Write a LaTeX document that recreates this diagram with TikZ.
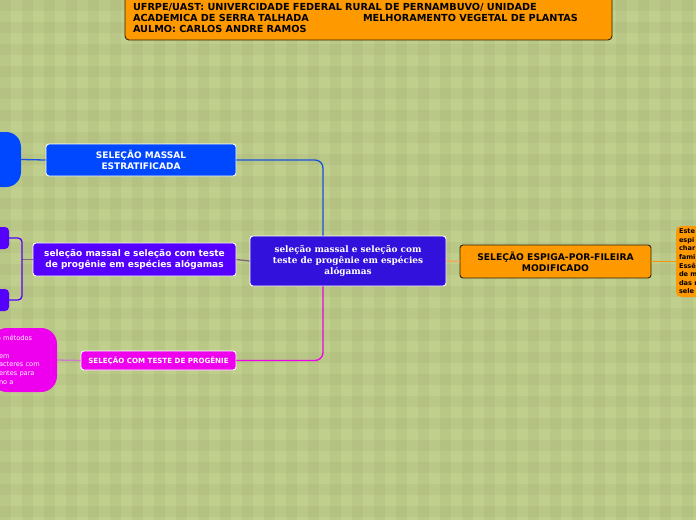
\documentclass[tikz,border=0pt]{standalone}
\usepackage{fontspec}
\setmainfont{DejaVu Sans}
\newfontfamily\mapserif{DejaVu Serif}
\usetikzlibrary{positioning}

\definecolor{mapbg}{RGB}{193,207,140}
\definecolor{maporange}{RGB}{255,153,0}
\definecolor{mapblue}{RGB}{0,72,255}
\definecolor{mapcentral}{RGB}{51,17,221}
\definecolor{mappurple}{RGB}{85,0,255}
\definecolor{mapmagenta}{RGB}{238,0,238}
\definecolor{mapdark}{RGB}{45,35,10}

\tikzset{
  topic/.style={draw=white, line width=0.9pt, rounded corners=3pt, text=white,
    align=center, inner sep=0pt, font=\bfseries\fontsize{9}{11}\selectfont},
  orangetopic/.style={topic, draw=mapdark, fill=maporange, text=black},
  bubble/.style={rounded corners=15pt, inner sep=0pt, align=left},
  link/.style={line width=1.3pt}
}

\begin{document}
\begin{tikzpicture}[x=1pt, y=-1pt]
    \useasboundingbox (0,0) rectangle (696,520);
    \clip (0,0) rectangle (696,520);

    % Background with plaid squares
    \fill[mapbg] (0,0) rectangle (696,520);
    \foreach \i in {0,22,...,690} {
        \fill[black, opacity=0.03] (\i,0) rectangle ++(11,520);
    }
    \foreach \j in {0,22,...,515} {
        \fill[black, opacity=0.03] (0,\j) rectangle ++(696,11);
    }

    % Title box
    \node[draw=mapdark, line width=0.9pt, fill=maporange, rounded corners=4pt,
          minimum width=487pt, minimum height=44pt, inner xsep=8pt, inner ysep=0pt,
          text width=471pt, align=left, font=\bfseries\fontsize{9.7}{11.3}\selectfont]
          (title) at (368.5,18) {UFRPE/UAST: UNIVERCIDADE FEDERAL RURAL DE PERNAMBUVO/ UNIDADE\\
          \makebox[230pt][l]{ACADEMICA DE SERRA TALHADA}MELHORAMENTO VEGETAL DE PLANTAS\\
          AULMO: CARLOS ANDRE RAMOS};

    % Central topic
    \node[topic, fill=mapcentral, minimum width=196pt, minimum height=50pt,
          font=\mapserif\bfseries\fontsize{8.9}{11}\selectfont]
          (central) at (348,261) {seleção massal e seleção com\\teste de progênie em espécies\\alógamas};

    % Main branches
    \node[topic, fill=mapblue, minimum width=190pt, minimum height=32pt]
          (massal) at (141,160) {SELEÇÃO MASSAL\\ESTRATIFICADA};
    \node[topic, fill=mappurple, minimum width=203pt, minimum height=33pt]
          (alogamas) at (134.5,259.5) {seleção massal e seleção com teste\\de progênie em espécies alógamas};
    \node[topic, fill=mapmagenta, minimum width=155pt, minimum height=19pt,
          font=\bfseries\fontsize{7.1}{8}\selectfont]
          (progenie) at (158.5,360.5) {SELEÇÃO COM TESTE DE PROGÊNIE};
    \node[orangetopic, minimum width=191pt, minimum height=33pt,
          font=\bfseries\fontsize{9.2}{11.3}\selectfont]
          (espiga) at (555.5,261.5) {SELEÇÃO ESPIGA-POR-FILEIRA\\MODIFICADO};

    % Sub topics (cut by the frame)
    \node[bubble, fill=mapblue, minimum width=61pt, minimum height=55pt, text width=50pt,
          text=white, font=\fontsize{5.5}{7}\selectfont]
          (massalnote) at (-9.5,159.5) {\hspace*{-6pt}a};
    \node[fill=mappurple, rounded corners=4pt, minimum width=29pt, minimum height=22pt]
          (alogamasA) at (-5.5,238) {};
    \node[fill=mappurple, rounded corners=4pt, minimum width=29pt, minimum height=22pt]
          (alogamasB) at (-5.5,300) {};
    \node[bubble, fill=mapmagenta, rounded corners=16pt, minimum width=66pt, minimum height=64pt,
          text width=50pt, text=white, font=\fontsize{6.6}{8.7}\selectfont]
          (progenienote) at (24,360) {\hspace*{-2pt}o métodos\\\mbox{}\\em\\acteres com\\entes para\\no a};
    \node[fill=maporange, rounded corners=5pt, minimum width=84pt, minimum height=71pt,
          inner sep=0pt, text width=78pt, align=left, font=\bfseries\fontsize{6.6}{8.6}\selectfont]
          (espiganote) at (718,261.5) {Este\\espi\\char\\fami\\Essê\\de m\\das r\\sele};

    % Connectors
    \coordinate (jtop) at ([xshift=-25pt]central.north);
    \coordinate (jbot) at ([xshift=-25pt]central.south);
    \coordinate (bk) at (22,259.5);
    \draw[link, mapblue!85!black!90] (massal.east) [rounded corners=8pt] -| (jtop);
    \draw[link, mapmagenta] (progenie.east) [rounded corners=8pt] -| (jbot);
    \draw[link, gray!80!violet] (alogamas.west) -- (bk);
    \draw[link, gray!80!violet] (alogamas.east) -- (central.west);
    \draw[link, mappurple] (alogamasA.east) [rounded corners=4pt] -| (bk) |- (alogamasB.east);
    \draw[link, mapblue!80!gray] (massalnote.east) -- (massal.west);
    \draw[link, mapmagenta!50!gray!70] (progenie.west) -- (progenienote.east);
    \draw[link, orange!80!brown!70] (central.east) -- (espiga.west);
    \draw[link, maporange!85!brown] (espiga.east) -- (espiganote.west);
\end{tikzpicture}
\end{document}
